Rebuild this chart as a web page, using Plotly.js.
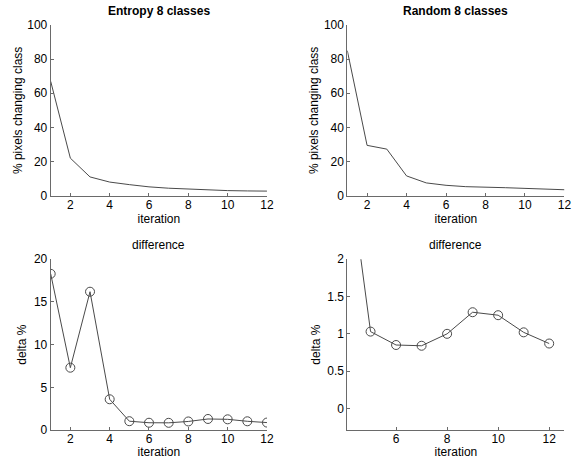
<!DOCTYPE html>
<html>
<head>
<meta charset="utf-8">
<script src="https://cdn.plot.ly/plotly-3.0.1.min.js"></script>
<style>html,body{margin:0;padding:0;background:#fff}#plot{width:576px;height:459px}</style>
</head>
<body>
<div id="plot"></div>
<script>
const iterations = [1,2,3,4,5,6,7,8,9,10,11,12];
const entropyPct = [67, 22, 11, 8, 6.5, 5.2, 4.4, 3.8, 3.4, 3.0, 2.8, 2.7];
const randomPct = [85, 29.5, 27.3, 11.6, 7.5, 6.1, 5.3, 4.8, 4.7, 4.3, 4.0, 3.5];
const differencePct = [18.3, 7.3, 16.2, 3.6, 1.03, 0.85, 0.84, 1.0, 1.29, 1.25, 1.02, 0.87];
const titles = ["Entropy 8 classes", "Random 8 classes", "difference", "difference"];

const lineColor = "#4a4a4a";
const axisColor = "#6a6a6a";
const tickFont = {family: "Liberation Sans, Arial, sans-serif", size: 12, color: "#000"};
const labelFont = {family: "Liberation Sans, Arial, sans-serif", size: 12, color: "#000"};

const traces = [
  {x: iterations, y: entropyPct, xaxis: "x", yaxis: "y", mode: "lines", line: {color: lineColor, width: 1}},
  {x: iterations, y: randomPct, xaxis: "x2", yaxis: "y2", mode: "lines", line: {color: lineColor, width: 1}},
  {x: iterations, y: differencePct, xaxis: "x3", yaxis: "y3", mode: "lines+markers", line: {color: lineColor, width: 1},
   marker: {symbol: "circle-open", size: 9, color: lineColor, line: {width: 1}}},
  {x: iterations, y: differencePct, xaxis: "x4", yaxis: "y4", mode: "lines+markers", line: {color: lineColor, width: 1},
   marker: {symbol: "circle-open", size: 9, color: lineColor, line: {width: 1}}}
];

function xax(domain, range, anchor) {
  return {domain: domain, range: range, anchor: anchor, dtick: 2, tick0: 0, ticks: "inside", ticklen: 3,
    tickcolor: axisColor, showline: true, linecolor: axisColor, linewidth: 1, showgrid: false, zeroline: false,
    tickfont: tickFont, ticklabelstandoff: -2, title: {text: "iteration", font: labelFont, standoff: 3}};
}
function yax(domain, range, anchor, dtick, label, standoff) {
  return {domain: domain, range: range, anchor: anchor, dtick: dtick, tick0: 0, ticks: "inside", ticklen: 3,
    tickcolor: axisColor, showline: true, linecolor: axisColor, linewidth: 1, showgrid: false, zeroline: false,
    tickfont: tickFont, ticklabelstandoff: 0, title: {text: label, font: labelFont, standoff: standoff}};
}

const colL = [0.088, 0.4635], colR = [0.603, 0.980];
const rowT = [0.5736, 0.9455], rowB = [0.0632, 0.4351];

function titleAnn(text, col, row) {
  return {text: text, x: (col[0]+col[1])/2, y: row[1], xref: "paper", yref: "paper",
    xanchor: "center", yanchor: "bottom", showarrow: false, yshift: 5, font: labelFont};
}

const layout = {
  width: 576, height: 459, margin: {l: 0, r: 0, t: 0, b: 0},
  paper_bgcolor: "#fff", plot_bgcolor: "#fff", showlegend: false, font: tickFont,
  xaxis: xax(colL, [1, 12], "y"),
  yaxis: yax(rowT, [0, 100], "x", 20, "% pixels changing class", 2),
  xaxis2: xax(colR, [1, 12], "y2"),
  yaxis2: yax(rowT, [0, 100], "x2", 20, "% pixels changing class", 2),
  xaxis3: xax(colL, [1, 12], "y3"),
  yaxis3: yax(rowB, [0, 20], "x3", 5, "delta %", 4),
  xaxis4: xax(colR, [4.09, 12.6], "y4"),
  yaxis4: yax(rowB, [-0.29, 2], "x4", 0.5, "delta %", 4),
  annotations: [
    titleAnn("<b>" + titles[0] + "</b>", colL, rowT),
    titleAnn("<b>" + titles[1] + "</b>", colR, rowT),
    titleAnn(titles[2], colL, rowB),
    titleAnn(titles[3], colR, rowB)
  ]
};

Plotly.newPlot("plot", traces, layout, {staticPlot: true, displayModeBar: false});
</script>
</body>
</html>
